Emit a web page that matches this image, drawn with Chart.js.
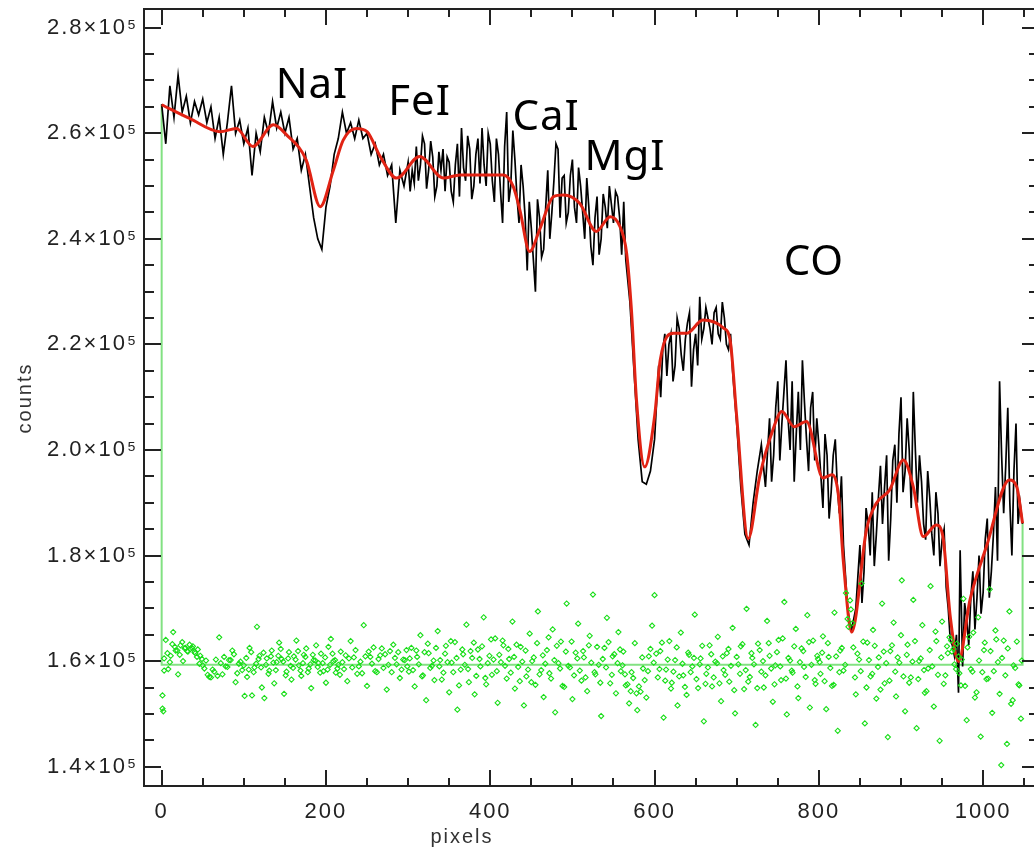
<!DOCTYPE html>
<html><head><meta charset="utf-8">
<script src="https://cdn.jsdelivr.net/npm/chart.js@4.4.1/dist/chart.umd.min.js"></script>
<style>html,body{margin:0;padding:0;background:#fff;overflow:hidden;width:1034px;height:853px}
#wrap{position:relative;width:1050px;height:853px}</style></head>
<body><div id="wrap"><canvas id="c" width="1050" height="853"></canvas></div>
<script>
// ---- data ----
const specX=[0,5,10,15,20,25,30,35,40,45,50,55,60,65,70,75,80,85,90,95,
100,105,110,115,120,125,130,135,140,145,150,155,160,165,170,175,180,185,190,195,
200,205,210,215,220,225,230,235,240,245,250,255,260,265,270,275,280,285,290,295,
300,302.5,305,307.5,310,312.5,315,317.5,320,322.5,325,327.5,330,332.5,335,337.5,340,342.5,345,347.5,
350,352.5,355,357.5,360,362.5,365,367.5,370,372.5,375,377.5,380,382.5,385,387.5,390,392.5,395,397.5,
400,402.5,405,407.5,410,412.5,415,417.5,420,422.5,425,427.5,430,432.5,435,437.5,440,442.5,445,447.5,
450,452.5,455,457.5,460,462.5,465,467.5,470,472.5,475,477.5,480,482.5,485,487.5,490,492.5,495,497.5,
500,502.5,505,507.5,510,512.5,515,517.5,520,522.5,525,527.5,530,532.5,535,537.5,540,542.5,545,547.5,
550,552.5,555,557.5,560,562.5,565,
570,575,580,585,590,595,600,605,
607.5,610,612.5,615,617.5,620,622.5,625,627.5,630,632.5,635,637.5,640,642.5,645,647.5,650,652.5,655,
657.5,660,662.5,665,667.5,670,672.5,675,677.5,680,682.5,685,687.5,690,692.5,695,
700,705,710,715,720,725,730,735,
740,742.5,745,747.5,750,752.5,755,757.5,760,762.5,765,767.5,770,772.5,775,777.5,780,782.5,785,787.5,
790,792.5,795,797.5,800,802.5,805,807.5,810,812.5,815,817.5,820,822.5,825,827.5,830,832.5,835,837.5,
840,842.5,845,847.5,850,852.5,855,857.5,860,862.5,865,867.5,870,872.5,875,877.5,880,882.5,885,887.5,
890,892.5,895,897.5,900,902.5,905,907.5,910,912.5,915,917.5,920,922.5,925,927.5,930,932.5,935,937.5,
940,942.5,945,947.5,950,952.5,955,957.5,960,962.5,965,967.5,970,972,
975,977.5,980,982.5,985,987.5,990,992.5,995,997.5,1000,1002.5,1005,1007.5,1010,1012.5,1015,1017.5,1020,1022.5,
1025,1027.5,1030,1032.5,1035,1037.5,1040,1042.5,1045,1048];
const specY=[265500,258000,269000,263000,271000,264000,267000,262000,266000,263500,266500,262000,265000,259000,263000,256000,262000,269000,260000,262500,
258000,261000,252000,260000,256500,263000,260000,266000,261000,264000,260000,263000,257000,259000,253000,256000,250000,244000,240000,238000,
246000,250000,256000,259000,264000,260000,262000,259000,262500,259000,260000,256000,258000,254000,256000,252000,254000,243000,253000,250000,
254500,249000,253000,250500,257500,251000,254000,259500,258000,249500,253000,258500,255500,248000,250000,256500,253000,257000,249000,255500,
254500,249000,247000,254000,258000,248000,261000,253500,251000,259500,257000,247500,250000,256000,259000,250500,261000,254000,250000,260000,
258000,251000,247000,259000,256000,249000,243000,257500,264000,247000,250000,260500,255000,248000,243000,254000,250000,244000,234000,247000,
242000,236000,230000,247500,244000,236500,238000,246000,253000,240000,245000,251000,258000,257000,244000,251500,252000,243000,245000,252000,
255000,246000,243000,253500,250000,245000,240000,251500,246000,238500,235000,244000,248000,237000,240000,248500,246000,242000,250000,246500,
243000,249000,248000,244000,237000,247000,236000,
228000,215000,202000,194000,193500,196000,202000,216000,
210000,219000,222000,214000,220000,222000,213000,216000,225000,223000,218000,215000,221000,224000,226000,212000,219000,222000,216000,229000,
221000,223000,227000,225000,223000,220000,226000,227000,222000,221000,228000,225000,220000,219000,222000,215000,
205000,193000,184000,182000,190000,196000,201000,193000,
206000,194000,199000,208000,213000,198000,205000,211000,217000,206000,200000,213000,194000,203000,211000,200000,217000,209000,202000,196000,
208000,211000,198000,206000,201000,195000,189000,203000,199000,187000,192000,199000,202000,193000,188000,195000,182000,176000,170000,167500,
166000,168000,170000,176000,182000,171000,177000,189000,186000,180000,192000,178000,184000,191000,197000,186000,193000,199000,179000,187000,
198000,201000,190000,203000,210000,192000,196000,206000,200000,189000,211000,200000,190000,199000,194000,186000,183000,196000,191000,184000,
180000,192000,188000,178000,183000,185000,174000,170000,164000,163000,161000,165000,154000,181000,
159000,171000,168000,163000,172000,177000,166000,172000,180000,169000,173000,183000,187000,172000,177000,184000,193000,179000,213000,199000,
188000,197000,208000,190000,180000,196000,205000,186000,190000,186000];

const fitX=[0,34,71,91,111,136,152,176,193,209,221,237,250,266,286,314,343,363,416,428,
436,448,460,477,489,509,529,546,558,566,572,578,588,600,607,623,639,659,684,692,
700,714,728,744,755,770,785,805,816,824,830,840,858,870,886,903,915,927,943,951,
960,970,984,1004,1032,1041,1048];
const fitY=[265400,262800,260300,260900,257500,261600,259700,254900,246100,253000,258700,260900,260300,255600,251500,255600,251500,252100,252100,249900,
245500,237600,241700,248000,248300,246700,241400,244200,242300,237300,226200,209500,196800,206300,217100,222100,222100,224600,223100,220800,
206300,183200,195000,203800,207300,204400,205400,194700,195300,191200,178600,165500,184900,189900,192400,198100,193000,183600,185800,183600,
168400,159900,171600,181700,194300,193000,186100];

const residX=[1,1,2,3,5,8,11,14,17,20,23,26,29,32,35,38,41,44,47,50,54,58,62,66,70,74,78,82,86,90,94,98,
101,104,107,110,113,116,119,122,125,128,131,134,137,140,143,146,149,152,155,158,161,164,167,170,173,176,179,182,185,188,
191,194,197,200,203,206,209,212,215,218,222,226,230,234,238,242,246,250,254,258,262,266,270,274,278,282,286,290,294,298,
301,304,308,311,315,318,322,325,329,332,336,339,343,346,350,353,357,360,364,367,371,374,378,381,385,388,392,395,399,402,
406,409,413,416,420,423,427,430,434,437,441,444,448,451,455,458,462,465,469,472,476,479,483,486,490,493,497,500,504,507,
511,514,518,521,525,528,532,535,539,542,546,549,553,556,559,
562,565,569,572,576,579,583,586,590,593,597,600,604,607,611,614,618,621,625,628,632,635,639,642,646,649,653,656,660,663,
667,670,674,677,681,684,688,691,695,698,702,705,709,712,716,719,723,726,730,733,737,740,744,747,751,754,758,761,765,768,
772,775,779,782,786,789,793,796,799,
802,805,809,812,816,819,823,826,830,833,836,839,842,845,849,852,856,859,863,866,870,873,877,880,884,887,891,894,898,901,
905,908,912,915,919,922,926,929,933,936,940,943,947,950,954,957,961,964,967,970,973,976,980,983,987,990,994,997,1001,1004,
1008,1011,1015,1018,1022,1025,1029,1032,1036,1039,1043,1046,
3,7,10,13,16,19,22,25,28,31,34,37,40,43,46,49,52,56,60,64,68,72,76,80,84,88,92,96,
100,103,106,109,112,115,118,121,124,127,130,133,136,139,142,145,148,151,154,157,160,163,166,169,172,175,178,181,184,187,
190,193,196,199,202,205,208,211,214,217,220,224,228,232,236,240,244,248,252,256,260,264,268,272,276,280,284,288,292,296,299,
302,306,310,313,317,320,324,327,331,334,338,341,345,348,352,355,359,362,366,369,373,376,380,383,387,390,394,397,401,404,
408,411,415,418,422,425,429,432,436,439,443,446,450,453,457,460,464,467,471,474,478,481,485,488,492,495,499,502,506,509,
513,516,520,523,527,530,534,537,541,544,548,551,555,558,
561,564,567,571,574,578,581,585,588,592,595,599,602,606,609,613,616,620,623,627,630,634,637,641,644,648,651,655,658,662,
665,669,672,676,679,683,686,690,693,697,700,704,707,711,714,718,721,725,728,732,735,739,742,746,749,753,756,760,763,767,770,774,777,781,784,788,791,795,798,
801,804,807,811,814,818,821,825,828,832,835,838,841,844,847,851,854,858,861,865,868,872,875,879,882,886,889,893,896,900,
903,907,910,914,917,921,924,928,931,935,938,942,945,949,952,956,959,962,965,968,971,974,978,981,985,988,992,995,999,1002,
1006,1009,1013,1016,1020,1023,1027,1030,1034,1037,1041,1044,1047];
const residY=[151000,153500,150500,160500,164000,158500,161000,165500,162000,157500,163000,160000,162500,161800,162300,162800,161500,162200,161000,159200,160100,157000,158400,160300,164500,157500,159000,160200,162000,156000,159500,158300,
153400,157000,162500,153500,158800,166500,161000,155000,153000,160500,158200,162000,155800,159800,163500,160400,153800,158000,161700,156500,160900,163900,159200,157200,161200,162400,158600,154900,160200,163000,
159600,161400,158100,155900,162700,164200,160000,157800,159300,161800,158500,156200,163800,160700,157600,159900,166800,155300,160800,162600,157900,161100,158700,154600,161900,163100,159400,156800,160300,162100,
158000,162500,155200,160800,164900,157300,152600,161500,159100,156400,165700,160200,157800,162900,154100,159700,163600,150800,158400,161300,166900,156000,160600,153700,162200,159000,168300,155600,161000,157400,
164300,152100,159800,163000,156700,160400,167500,154800,158900,162700,151600,157100,165200,160000,155500,169400,158300,153200,162100,157700,166000,150300,159600,163700,155100,170900,158800,152800,161600,167100,
156300,160700,154300,164800,172600,157500,159300,149600,162500,168200,155800,160900,153900,165500,158100,
161800,155400,152000,157900,163400,150700,154200,158600,153100,160900,166700,172500,156900,161900,149300,158400,163800,155900,160200,151600,165400,157300,153600,161200,159000,168800,154900,160500,148600,157600,
163000,155200,159900,164600,152400,158300,161500,156100,166300,150100,159400,162800,154700,169900,157000,160600,147900,163300,158000,155000,167600,161000,152300,159200,164000,156400,171200,149900,160100,157800,
166100,153000,162400,158900,168700,151200,163900,155700,160400,
157600,164700,150900,160800,155300,169200,146800,162000,158200,172900,166500,169800,162600,153700,160300,174700,148200,163500,157100,165900,152900,160700,170900,155800,145600,161900,167300,153300,159700,175300,
150500,163100,156900,171600,147300,160000,166800,154000,158600,174200,151400,163800,144900,167500,157300,161500,163900,162300,158500,160900,155400,171800,148800,164600,158000,153100,168300,145700,162100,156600,
173600,150200,165800,159800,140300,163900,144300,169400,152600,158700,155600,149100,
158200,161500,159800,163200,162700,162000,161200,163600,162400,161900,163100,162500,161700,160800,159500,160400,158600,157400,156900,158000,157200,159600,160800,158900,160200,161300,157700,159900,
159200,160600,158400,161700,157900,159500,160400,158800,161600,159300,157600,160900,159700,158300,161000,162300,159900,157300,160500,159100,158700,160300,161900,158200,159600,160800,157900,159400,161200,160100,
158900,157800,159600,160700,158400,159300,161400,160200,158600,157400,159800,161100,160500,158800,162100,159000,157700,160900,161800,159500,158100,160400,162400,161300,159300,157900,160600,161700,158400,160200,159000,
160500,158300,162000,159400,157100,161700,163300,158700,160100,162500,159000,156500,161400,159800,163800,157900,160600,155400,162200,159300,158500,161900,163500,157200,160400,162800,156800,159600,164100,160300,
158100,161200,163900,159100,162300,157800,160800,163100,156200,159900,162000,158400,156000,160700,163400,157500,161100,159500,164500,156700,160200,162900,158600,155300,161800,159100,163700,157300,160500,158200,
161900,156900,163000,159700,157900,162700,155900,160400,158800,163600,157400,161300,159600,162200,
159200,157500,155600,154300,156800,153900,155200,160700,156400,158100,162300,159700,161400,158500,163500,156300,160300,154800,158000,162600,157100,159500,155100,161600,157900,160600,156600,159400,162900,155700,
158800,161300,156900,159600,155800,160900,157400,162300,159100,154500,160800,157600,163200,158300,156100,161500,159400,154900,162100,160000,157300,163400,158600,155600,161700,159000,164300,156700,160600,158200,162800,155200,159800,161900,157000,163600,159300,156400,161000,
159800,161600,156200,163400,158700,155500,160900,157900,162500,159300,168000,171500,167200,156900,161400,158100,163700,155000,160200,157600,162900,158900,154600,161800,159600,156300,163000,158000,160700,164900,
157100,161200,155900,159900,163800,156600,160500,158300,154300,162100,159000,165600,157400,160700,155700,162800,164500,161800,159400,163300,157700,160300,155300,162600,158500,165400,154100,160100,157900,163500,
156700,161900,158100,164100,153800,160600,157300,162400,151900,159200,163700,155400,160100];

const zeroX=[0,0,1048,1048];
const zeroY=[265400,159300,159300,186100];

const xTickValues=[0,200,400,600,800,1000];
const yTickValues=[140000,160000,180000,200000,220000,240000,260000,280000];

const lineNames=['NaI','FeI','CaI','MgI','CO'];
const lineNameX=[183,314,468,564,794];
const lineNameY=[266700,263500,260600,253000,233200];

// ---- build ----
const pts=(xs,ys)=>xs.map((x,i)=>({x:x,y:ys[i]}));
const fmt=v=>(v/1e5).toFixed(1)+'×10⁵';

const framePlugin={
  id:'frame',
  beforeDraw(chart){ chart.ctx.letterSpacing='2px'; },
  afterDraw(chart){
    const ctx=chart.ctx,a=chart.chartArea,xs=chart.scales.x,ys=chart.scales.y;
    ctx.save();
    ctx.strokeStyle='#222';ctx.lineWidth=2;
    ctx.strokeRect(a.left,a.top,a.right-a.left,a.bottom-a.top);
    ctx.beginPath();
    for(let v=Math.ceil(xs.min/50)*50;v<=xs.max;v+=50){
      const p=Math.round(xs.getPixelForValue(v));const L=(v%200===0)?16:8;
      ctx.moveTo(p,a.bottom);ctx.lineTo(p,a.bottom-L);
      ctx.moveTo(p,a.top);ctx.lineTo(p,a.top+L);
    }
    for(let v=Math.ceil(ys.min/5000)*5000;v<=ys.max;v+=5000){
      const p=Math.round(ys.getPixelForValue(v));const L=(v%20000===0)?17:10;
      ctx.moveTo(a.left,p);ctx.lineTo(a.left+L,p);
      ctx.moveTo(a.right,p);ctx.lineTo(a.right-L,p);
    }
    ctx.stroke();
    // axis titles
    ctx.fillStyle='#333';ctx.font='20px "Liberation Sans"';ctx.letterSpacing='2px';
    ctx.textAlign='center';ctx.textBaseline='alphabetic';
    ctx.fillText('pixels',462,843);
    ctx.save();ctx.translate(31,398);ctx.rotate(-Math.PI/2);ctx.fillText('counts',0,0);ctx.restore();
    // line labels
    ctx.fillStyle='#000';ctx.font='42px "Noto Sans"';ctx.letterSpacing='1px';
    lineNames.forEach((t,i)=>{
      ctx.fillText(t,xs.getPixelForValue(lineNameX[i]),ys.getPixelForValue(lineNameY[i]));
    });
    ctx.restore();
  }
};

new Chart(document.getElementById('c'),{
  type:'scatter',
  data:{datasets:[
    {label:'residuals',data:pts(residX,residY),showLine:false,pointStyle:'rectRot',pointRadius:2.6,pointBorderWidth:1.1,
     borderColor:'rgb(25,222,25)',backgroundColor:'rgba(0,0,0,0)',order:0},
    {label:'fit',data:pts(fitX,fitY),showLine:true,borderColor:'rgb(225,35,20)',borderWidth:3,pointRadius:0,
     cubicInterpolationMode:'monotone',order:1},
    {label:'spectrum',data:pts(specX,specY),showLine:true,borderColor:'#000',borderWidth:1.7,pointRadius:0,tension:0,order:2},
    {label:'zero',data:pts(zeroX,zeroY),showLine:true,borderColor:'rgb(130,225,130)',borderWidth:2,pointRadius:0,tension:0,order:3}
  ]},
  options:{
    responsive:false,animation:false,events:[],
    layout:{padding:{left:0,top:9,right:11,bottom:0}},
    plugins:{legend:{display:false},tooltip:{enabled:false}},
    scales:{
      x:{type:'linear',min:-21.5,max:1068,
         afterBuildTicks:s=>{s.ticks=xTickValues.map(v=>({value:v}));},
         afterFit:s=>{s.height=67;s.paddingLeft=0;s.paddingRight=0;},
         grid:{display:false,drawTicks:false},border:{display:false},
         ticks:{padding:13,color:'#222',font:{family:'Liberation Sans',size:22},maxRotation:0,autoSkip:false,callback:v=>String(v)}},
      y:{type:'linear',min:136340,max:283540,
         afterBuildTicks:s=>{s.ticks=yTickValues.map(v=>({value:v}));},
         afterFit:s=>{s.width=144;s.paddingTop=0;s.paddingBottom=0;},
         grid:{display:false,drawTicks:false},border:{display:false},
         ticks:{padding:6,color:'#222',font:{family:'Liberation Sans',size:22},autoSkip:false,callback:v=>fmt(v)}}
    }
  },
  plugins:[framePlugin]
});
</script></body></html>
